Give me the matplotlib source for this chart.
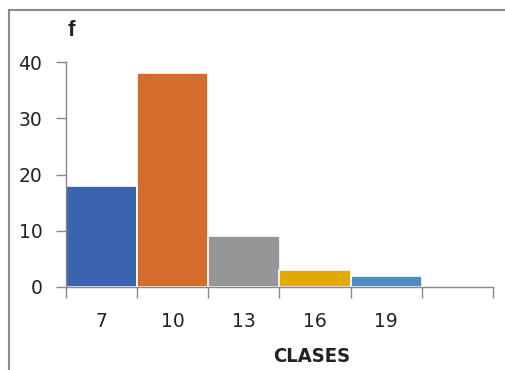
import matplotlib
matplotlib.use("Agg")
import matplotlib.pyplot as plt
from matplotlib.lines import Line2D

categories = ["7", "10", "13", "16", "19", ""]
values = [18, 38, 9, 3, 2, 0]
colors = ["#3B64AE", "#D46C2B", "#969696", "#E2AA00", "#4F8BC2", "#FFFFFF"]
y_ticks = [0, 10, 20, 30, 40]

plt.rcParams['font.family'] = ['DejaVu Sans']

W, H = 506, 370
fig = plt.figure(figsize=(W / 100, H / 100), dpi=100)
ax = fig.add_axes([66 / W, 1 - 287 / H, (493 - 66) / W, (287 - 62) / H])

x = list(range(len(categories)))
ax.bar(x, values, width=1.0, color=colors, edgecolor="white", linewidth=1.2)

ax.set_xlim(-0.5, len(categories) - 0.5)
ax.set_ylim(0, 40)
ax.set_yticks(y_ticks)
ax.set_yticklabels([str(v) for v in y_ticks], fontsize=13.5, color="#222222")
ax.set_xticks(x)
ax.set_xticklabels(categories, fontsize=13.5, color="#222222")
ax.set_xticks([i - 0.5 for i in range(len(categories) + 1)], minor=True)
ax.tick_params(axis="x", which="major", length=0, pad=18)
ax.tick_params(axis="x", which="minor", length=8, color="#888888", width=1)
ax.tick_params(axis="y", length=7, color="#888888", width=1, pad=10)

for s in ["top", "right"]:
    ax.spines[s].set_visible(False)
for s in ["left", "bottom"]:
    ax.spines[s].set_color("#888888")
    ax.spines[s].set_linewidth(1)

fig.text(312 / W, 1 - 357 / H, "CLASES", ha="center", va="center", fontsize=14.5,
         family="DejaVu Sans", fontstretch="condensed", fontweight="bold", color="#222222")
fig.text(71 / W, 1 - 30 / H, "f", ha="center", va="center", fontsize=16,
         fontweight="bold", family=["Liberation Sans", "DejaVu Sans"], color="#222222")

# outer chart border
fig.add_artist(Line2D([9 / W, 9 / W], [0, 1 - 10 / H], transform=fig.transFigure, color="#8a8a8a", lw=1.5))
fig.add_artist(Line2D([9 / W, 1.01], [1 - 10 / H, 1 - 10 / H], transform=fig.transFigure, color="#8a8a8a", lw=1.5))

fig.savefig("out.png", dpi=100)
